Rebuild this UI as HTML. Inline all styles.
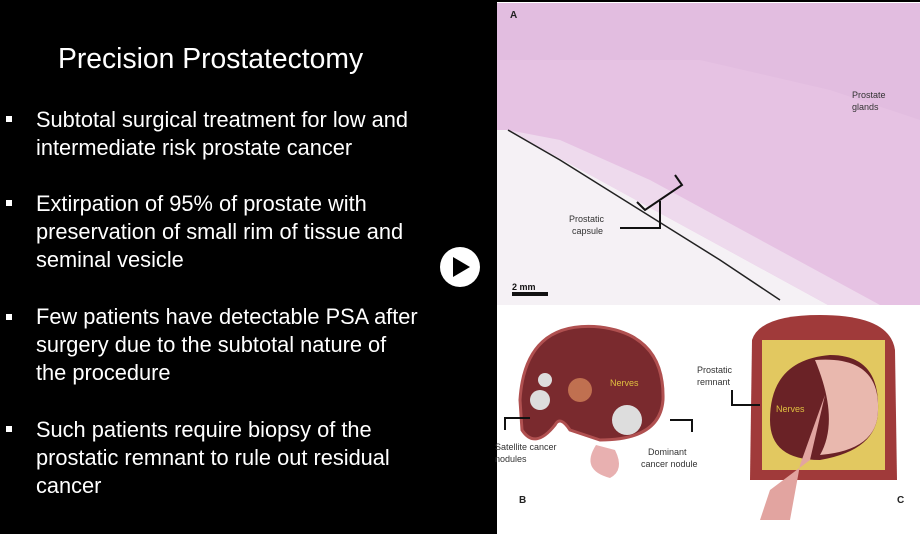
<!DOCTYPE html>
<html><head><style>
body{margin:0;width:920px;height:534px;background:#000;position:relative;overflow:hidden;font-family:"Liberation Sans",sans-serif}
.t{position:absolute;color:#fff;font-size:21.8px;left:36px;line-height:28px}
.b{position:absolute;left:6px;width:6px;height:6px;background:#fff}
</style></head><body>
<div style="position:absolute;left:58px;top:42px;color:#fff;font-size:28.3px">Precision Prostatectomy</div>
<div class="b" style="top:116px"></div><div class="t" style="top:106px">Subtotal surgical treatment for low and<br>intermediate risk prostate cancer</div>
<div class="b" style="top:200px"></div><div class="t" style="top:190px">Extirpation of 95% of prostate with<br>preservation of small rim of tissue and<br>seminal vesicle</div>
<div class="b" style="top:314px"></div><div class="t" style="top:303px">Few patients have detectable PSA after<br>surgery due to the subtotal nature of<br>the procedure</div>
<div class="b" style="top:426px"></div><div class="t" style="top:416px">Such patients require biopsy of the<br>prostatic remnant to rule out residual<br>cancer</div>
<svg style="position:absolute;left:0;top:0" width="920" height="534">
<circle cx="460" cy="267" r="20" fill="#fff"/><polygon points="453,257 453,277 470,267" fill="#000"/>
<rect x="497" y="2" width="423" height="532" fill="#fff"/>
<rect x="497" y="3" width="423" height="302" fill="#e6c2e3"/>
<polygon points="497,3 920,3 920,120 830,90 700,60 600,60 497,60" fill="#e2bde0"/>
<polygon points="508,130 828,305 497,305 497,130" fill="#f5f1f5"/>
<polygon points="508,130 828,305 880,305 650,180 560,140" fill="#eedaed"/>
<path d="M508,130 L560,160 L600,185 L640,210 L680,235 L720,260 L780,300" stroke="#222" stroke-width="1.5" fill="none"/>
<path d="M675,175 L682,185 L645,210 L637,202 M660,201 L660,228 L620,228" stroke="#111" stroke-width="2" fill="none"/>
<text x="510" y="18" font-size="10" font-weight="bold" fill="#222">A</text>
<text x="852" y="98" font-size="9" fill="#333">Prostate</text><text x="852" y="110" font-size="9" fill="#333">glands</text>
<text x="569" y="222" font-size="9" fill="#333">Prostatic</text><text x="572" y="234" font-size="9" fill="#333">capsule</text>
<text x="512" y="290" font-size="9" font-weight="bold" fill="#111">2 mm</text><rect x="512" y="292" width="36" height="4" fill="#111"/>
<path d="M520,400 Q525,320 600,327 Q665,335 663,400 Q660,440 600,440 L570,430 Q560,415 555,425 Q535,450 522,430 Z" fill="#7a2a2e" stroke="#b05050" stroke-width="3"/>
<circle cx="580" cy="390" r="12" fill="#c07050"/><circle cx="540" cy="400" r="10" fill="#ddd"/><circle cx="545" cy="380" r="7" fill="#ddd"/><circle cx="627" cy="420" r="15" fill="#ddd"/>
<text x="610" y="386" font-size="9" fill="#e0c040">Nerves</text>
<path d="M596,445 Q580,470 610,478 Q625,470 615,450 Z" fill="#e8b0b0"/>
<path d="M505,430 L505,418 L530,418 M692,432 L692,420 L670,420" stroke="#111" stroke-width="2" fill="none"/>
<text x="495" y="450" font-size="9" fill="#333">Satellite cancer</text><text x="495" y="462" font-size="9" fill="#333">nodules</text>
<text x="648" y="455" font-size="9" fill="#333">Dominant</text><text x="641" y="467" font-size="9" fill="#333">cancer nodule</text>
<text x="519" y="503" font-size="10" font-weight="bold" fill="#222">B</text>
<path d="M752,340 Q760,315 820,315 Q890,315 895,350 L897,480 L750,480 Z" fill="#a03a3a"/>
<path d="M762,340 L885,340 L885,470 L762,470 Z" fill="#e2c860"/>
<path d="M770,420 Q770,360 830,355 Q880,355 878,410 Q878,450 820,460 Q770,460 770,420 Z" fill="#6a2226"/>
<path d="M815,360 Q880,355 878,410 Q878,450 820,455 Q840,420 815,360 Z" fill="#e9b8ae"/>
<path d="M825,395 L800,465 L790,520 L760,520 L770,490 L810,460 Z" fill="#e2a4a0"/>
<text x="776" y="412" font-size="9" fill="#e0c040">Nerves</text>
<text x="697" y="373" font-size="9" fill="#333">Prostatic</text><text x="697" y="385" font-size="9" fill="#333">remnant</text>
<path d="M732,390 L732,405 L760,405" stroke="#111" stroke-width="2" fill="none"/>
<text x="897" y="503" font-size="10" font-weight="bold" fill="#222">C</text>
</svg>
</body></html>
